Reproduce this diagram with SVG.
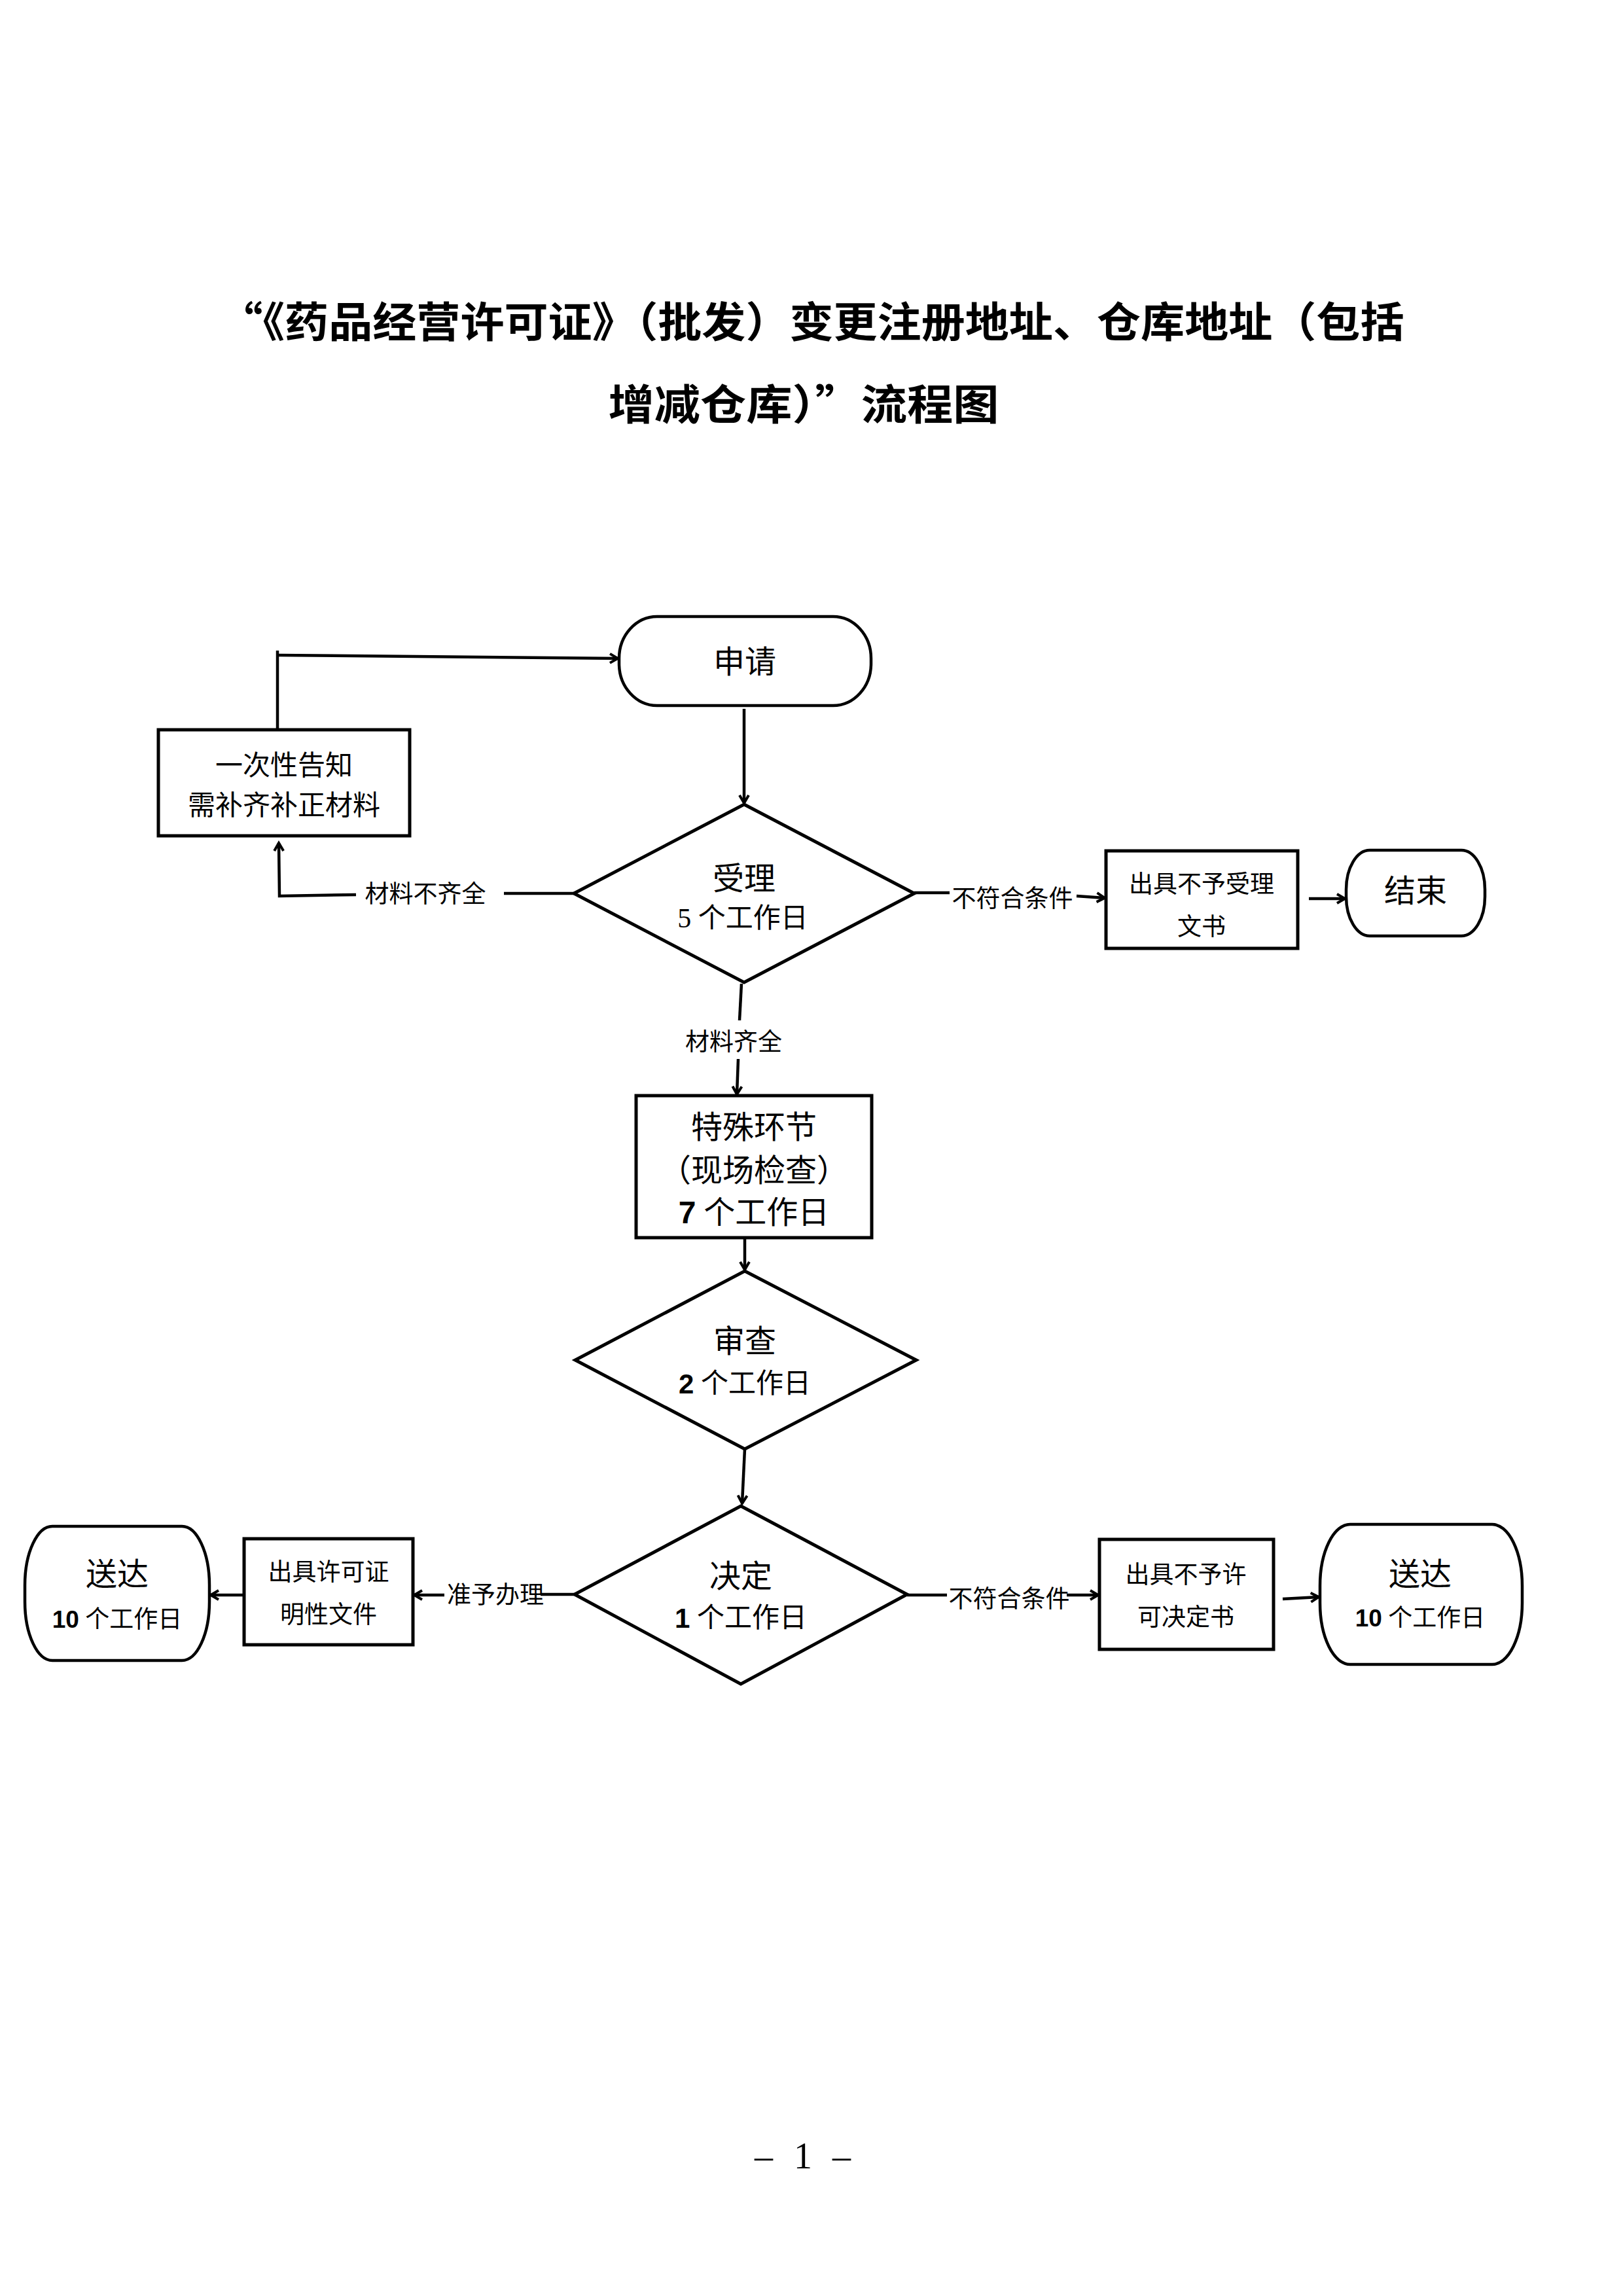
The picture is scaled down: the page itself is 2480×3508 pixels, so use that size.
<svg xmlns="http://www.w3.org/2000/svg" width="2480" height="3508" viewBox="0 0 2480 3508">
<defs>
<marker id="arr" markerUnits="userSpaceOnUse" markerWidth="20" markerHeight="20" refX="14" refY="8" orient="auto" overflow="visible">
<path d="M2,1 L14,8 L2,15" fill="none" stroke="#000" stroke-width="4" stroke-linejoin="miter"/>
</marker>
<style>
.shape{fill:#fff;stroke:#000;stroke-width:5}
.term{fill:#fff;stroke:#000;stroke-width:4.5}
.ln{fill:none;stroke:#000;stroke-width:4.5}
.ar{fill:none;stroke:#000;stroke-width:4.5;marker-end:url(#arr)}
text{font-family:"Liberation Serif","Noto Sans CJK SC",serif;fill:#000;text-anchor:middle;dominant-baseline:central}
.title{font-family:"Noto Sans CJK SC",sans-serif;font-weight:bold;font-size:64px}
.big{font-size:48px}
.mid{font-size:42px}
.sm{font-size:37px}
.lbl{font-size:37px}
.num{font-family:"Liberation Sans","Noto Sans CJK SC",sans-serif;font-weight:bold}
.pg{font-family:"Liberation Serif",serif;font-size:56px;dominant-baseline:alphabetic}
</style>
</defs>
<rect width="2480" height="3508" fill="#fff"/>

<g id="title">
<text class="title" x="1240" y="487" textLength="1811" lengthAdjust="spacingAndGlyphs">“《药品经营许可证》（批发）变更注册地址、仓库地址（包括</text>
<text class="title" x="1228" y="613" textLength="597" lengthAdjust="spacingAndGlyphs">增减仓库）”流程图</text>
</g>

<g id="connectors">
<line class="ar" x1="1137" y1="1083" x2="1137" y2="1227"/>
<line class="ln" x1="877" y1="1365" x2="770" y2="1365"/>
<polyline class="ar" points="544,1367 427,1369 426,1288"/>
<line class="ln" x1="424" y1="1117" x2="424" y2="994"/>
<line class="ar" x1="424" y1="1001" x2="944" y2="1006"/>
<line class="ln" x1="1397" y1="1364" x2="1451" y2="1364"/>
<line class="ar" x1="1645" y1="1369" x2="1688" y2="1372"/>
<line class="ar" x1="2000" y1="1373" x2="2055" y2="1373"/>
<line class="ln" x1="1133" y1="1503" x2="1130" y2="1559"/>
<line class="ar" x1="1128" y1="1618" x2="1126" y2="1672"/>
<line class="ar" x1="1138" y1="1891" x2="1138" y2="1940"/>
<line class="ar" x1="1138" y1="2214" x2="1134" y2="2297"/>
<line class="ln" x1="878" y1="2436" x2="826" y2="2436"/>
<line class="ar" x1="679" y1="2437" x2="633" y2="2437"/>
<line class="ar" x1="373" y1="2437" x2="322" y2="2437"/>
<line class="ln" x1="1386" y1="2437" x2="1447" y2="2437"/>
<line class="ar" x1="1630" y1="2437" x2="1678" y2="2437"/>
<line class="ar" x1="1960" y1="2443" x2="2015" y2="2440"/>
</g>

<g id="labels">
<text class="lbl" x="650" y="1366">材料不齐全</text>
<text class="lbl" x="1547" y="1373">不符合条件</text>
<text class="lbl" x="1121" y="1592">材料齐全</text>
<text class="lbl" x="757" y="2437">准予办理</text>
<text class="lbl" x="1542" y="2443">不符合条件</text>
</g>

<g id="n-apply">
<rect class="term" x="946" y="942" width="385" height="136" rx="58" ry="64"/>
<text class="big" x="1138" y="1011">申请</text>
</g>

<g id="n-notify">
<rect class="shape" x="242" y="1115" width="384" height="162"/>
<text class="mid" x="434" y="1170">一次性告知</text>
<text class="mid" x="434" y="1231">需补齐补正材料</text>
</g>

<g id="n-accept">
<polygon class="shape" points="1137,1229 1397,1365 1137,1501 877,1365"/>
<text class="big" x="1137" y="1342">受理</text>
<text class="mid" x="1135" y="1403">5 个工作日</text>
</g>

<g id="n-reject-doc">
<rect class="shape" x="1690" y="1300" width="293" height="149"/>
<text class="sm" x="1836" y="1351">出具不予受理</text>
<text class="sm" x="1836" y="1416">文书</text>
</g>

<g id="n-end">
<rect class="term" x="2057" y="1299" width="212" height="131" rx="36" ry="60"/>
<text class="big" x="2163" y="1361">结束</text>
</g>

<g id="n-inspect">
<rect class="shape" x="972" y="1674" width="360" height="217"/>
<text class="big" x="1152" y="1722">特殊环节</text>
<text class="big" x="1152" y="1788">（现场检查）</text>
<text class="big" x="1152" y="1852"><tspan class="num">7</tspan> 个工作日</text>
</g>

<g id="n-review">
<polygon class="shape" points="1138,1942 1400,2078 1138,2214 879,2078"/>
<text class="big" x="1138" y="2049">审查</text>
<text class="mid" x="1138" y="2114"><tspan class="num">2</tspan> 个工作日</text>
</g>

<g id="n-decide">
<polygon class="shape" points="1132,2301 1386,2436 1132,2573 878,2436"/>
<text class="big" x="1132" y="2408">决定</text>
<text class="mid" x="1132" y="2472"><tspan class="num">1</tspan> 个工作日</text>
</g>

<g id="n-permit-doc">
<rect class="shape" x="373" y="2351" width="258" height="162"/>
<text class="sm" x="502" y="2402">出具许可证</text>
<text class="sm" x="502" y="2467">明性文件</text>
</g>

<g id="n-deliver-left">
<rect class="term" x="38" y="2332" width="282" height="205" rx="42" ry="90"/>
<text class="big" x="179" y="2405">送达</text>
<text class="sm" x="179" y="2474"><tspan class="num">10</tspan> 个工作日</text>
</g>

<g id="n-deny-doc">
<rect class="shape" x="1680" y="2352" width="266" height="168"/>
<text class="sm" x="1812" y="2406">出具不予许</text>
<text class="sm" x="1812" y="2471">可决定书</text>
</g>

<g id="n-deliver-right">
<rect class="term" x="2017" y="2329" width="309" height="214" rx="46" ry="94"/>
<text class="big" x="2170" y="2405">送达</text>
<text class="sm" x="2170" y="2472"><tspan class="num">10</tspan> 个工作日</text>
</g>

<g id="page">
<text class="pg" x="1167" y="3313">–</text>
<text class="pg" x="1227" y="3313">1</text>
<text class="pg" x="1286" y="3313">–</text>
</g>
</svg>
